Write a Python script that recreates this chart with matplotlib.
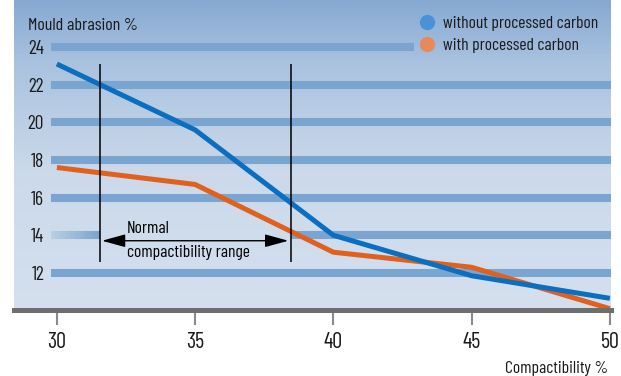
import numpy as np
import matplotlib
matplotlib.use("Agg")
import matplotlib.pyplot as plt
from matplotlib.lines import Line2D
from matplotlib.colors import LinearSegmentedColormap, to_rgba
from matplotlib.collections import LineCollection

# ---------------- data ----------------
compactibility = [30, 35, 40, 45, 50]
without_carbon = [23.1, 19.6, 14.0, 11.85, 10.65]
with_carbon = [17.6, 16.7, 13.1, 12.3, 10.1]
x_ticks = [30, 35, 40, 45, 50]
y_ticks = [12, 14, 16, 18, 20, 22, 24]
series_labels = ["without processed carbon", "with processed carbon"]
range_start, range_end = 31.55, 38.45
range_text = ["Normal", "compactibility range"]

FONT = ["Barlow Condensed", "Roboto Condensed", "Archivo Narrow", "PT Sans Narrow", "DejaVu Sans"]
plt.rcParams["font.family"] = FONT

W, H = 621, 376
fig = plt.figure(figsize=(W / 100, H / 100), dpi=100)
fig.patch.set_facecolor("white")
ax = fig.add_axes([14 / W, 66 / H, 597 / W, 310 / H])
xlim = (28.45, 50.04)
ylim = (10.03, 26.5)
ax.set_xlim(*xlim)
ax.set_ylim(*ylim)

# background gradient
cmap = LinearSegmentedColormap.from_list(
    "bg", [(0.0, "#d4e0ee"), (0.45, "#cbd9ea"), (0.8, "#a9c2df"), (1.0, "#86a9d2")])
grad = np.linspace(0, 1, 256).reshape(-1, 1)
ax.imshow(grad, extent=[*xlim, *ylim], origin="lower", aspect="auto",
          cmap=cmap, zorder=0, interpolation="bilinear")

# horizontal bands
band_color = "#7aa5d0"
band_lw = 5.8
band_x0 = 29.8
for yv in y_ticks:
    if yv == 24:
        ax.plot([band_x0, 42.9], [yv, yv], color=band_color, lw=band_lw,
                solid_capstyle="butt", zorder=1)
    elif yv == 14:
        xs = np.linspace(band_x0, range_start, 40)
        segs = [[(xs[i], yv), (xs[i + 1], yv)] for i in range(len(xs) - 1)]
        base = np.array(to_rgba(band_color))
        cols = []
        for i in range(len(segs)):
            c = base.copy()
            c[3] = 0.25 + 0.75 * i / (len(segs) - 1)
            cols.append(c)
        ax.add_collection(LineCollection(segs, colors=cols, linewidths=band_lw,
                                         capstyle="butt", zorder=1))
        ax.plot([range_end, xlim[1]], [yv, yv], color=band_color, lw=band_lw,
                solid_capstyle="butt", zorder=1)
    else:
        ax.plot([band_x0, xlim[1]], [yv, yv], color=band_color, lw=band_lw,
                solid_capstyle="butt", zorder=1)

# data lines
blue_line = "#0a6fc0"
orange_line = "#e0601e"
ax.plot(compactibility, without_carbon, color=blue_line, lw=3.6, zorder=4,
        solid_joinstyle="miter", solid_capstyle="butt")
ax.plot(compactibility, with_carbon, color=orange_line, lw=3.6, zorder=3,
        solid_joinstyle="miter", solid_capstyle="butt")

# range annotation
ax.vlines([range_start, range_end], 12.58, 23.1, color="black", lw=1.1, zorder=5)
ax.annotate("", xy=(range_start + 0.08, 13.71), xytext=(range_end - 0.08, 13.71),
            arrowprops=dict(arrowstyle="<|-|>,head_length=0.8,head_width=0.22",
                            color="black", lw=1.0, mutation_scale=18,
                            shrinkA=0, shrinkB=0), zorder=5)
ax.text(32.53, 14.1, range_text[0], fontsize=12.6, va="baseline", ha="left", zorder=5)
ax.text(32.53, 12.87, range_text[1], fontsize=12.6, va="baseline", ha="left", zorder=5)

# axes styling
for s in ["top", "left", "right"]:
    ax.spines[s].set_visible(False)
ax.spines["bottom"].set_color("#6e6e6e")
ax.spines["bottom"].set_linewidth(3.6)
ax.spines["bottom"].set_zorder(6)

ax.set_xticks(x_ticks)
ax.set_xticklabels([str(v) for v in x_ticks], fontsize=16)
ax.tick_params(axis="x", direction="out", length=10.8, width=1.5, color="#8a8a8a",
               pad=5.0, labelcolor="#1a1a1a")
ax.set_yticks(y_ticks)
ax.set_yticklabels([str(v) for v in y_ticks], fontsize=14)
ax.tick_params(axis="y", length=0, pad=-21.6, labelcolor="#1a1a1a")
for lab in ax.get_yticklabels():
    lab.set_zorder(6)

ax.text(28.95, 24.88, "Mould abrasion %", fontsize=13, ha="left", va="baseline",
        color="#1a1a1a", zorder=6)
fig.text(608 / W, 3 / H, "Compactibility %", fontsize=12.6, ha="right",
         va="baseline", color="#1a1a1a")

# legend
handles = [
    Line2D([], [], ls="", marker="o", markersize=11, markerfacecolor="#4893d6",
           markeredgecolor="none"),
    Line2D([], [], ls="", marker="o", markersize=11, markerfacecolor="#e8895a",
           markeredgecolor="none"),
]
leg = ax.legend(handles, series_labels, loc="upper left",
                bbox_to_anchor=(418.7 / W, 1 - 16.0 / H), bbox_transform=fig.transFigure,
                frameon=False, fontsize=12.6, handlelength=1.0, handletextpad=0.4,
                borderpad=0, borderaxespad=0, labelspacing=0.36)
for t in leg.get_texts():
    t.set_color("#1a1a1a")

fig.savefig("out.png", dpi=100)
